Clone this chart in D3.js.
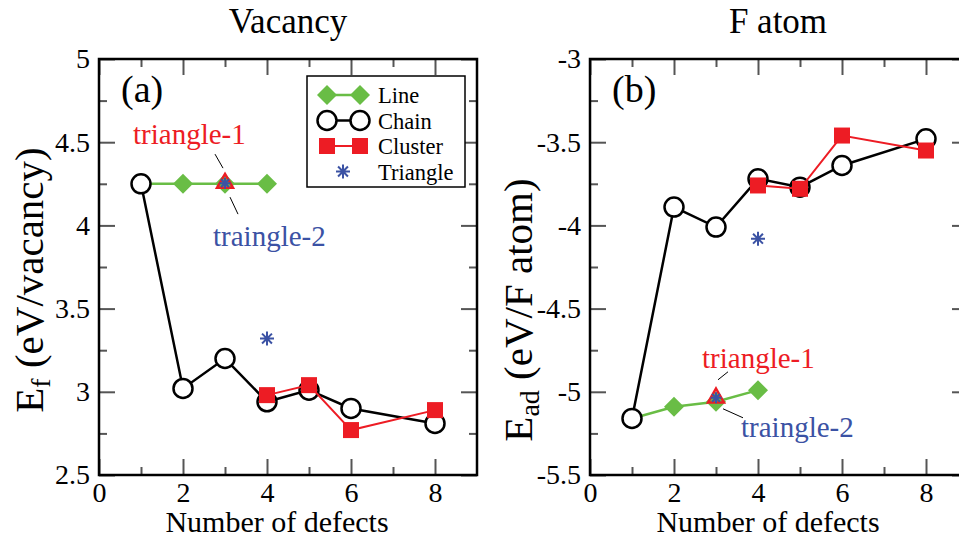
<!DOCTYPE html>
<html>
<head>
<meta charset="utf-8">
<script src="https://cdn.jsdelivr.net/npm/d3@7"></script>
<style>
  body { margin: 0; background: #fff; }
  svg { display: block; }
  .tick line { stroke: #555; stroke-width: 2; }
  .tick text { fill: #000; }
</style>
</head>
<body>
<svg width="959" height="537"></svg>
<script>
// values
var xTicks = [0, 2, 4, 6, 8];
var xMinor = [1, 3, 5, 7];
var vacancyTicks = [2.5, 3, 3.5, 4, 4.5, 5];
var vacancyMinor = [2.75, 3.25, 3.75, 4.25, 4.75];
var fatomTicks = [-5.5, -5, -4.5, -4, -3.5, -3];
var fatomMinor = [-5.25, -4.75, -4.25, -3.75, -3.25];

var lineX = [1, 2, 3, 4];
var lineVacancy = [4.25, 4.25, 4.25, 4.25];
var lineFatom = [-5.16, -5.09, -5.06, -4.99];

var chainX = [1, 2, 3, 4, 5, 6, 8];
var chainVacancy = [4.25, 3.02, 3.20, 2.94, 3.01, 2.90, 2.81];
var chainFatom = [-5.16, -3.89, -4.01, -3.72, -3.77, -3.64, -3.48];

var clusterX = [4, 5, 6, 8];
var clusterVacancy = [2.98, 3.04, 2.77, 2.89];
var clusterFatom = [-3.76, -3.78, -3.46, -3.55];

var triangleX = [4];
var triangleVacancy = [3.32];
var triangleFatom = [-4.08];

// the two triangle structures marked at 3 defects
var markedX = [3];
var markedVacancy = [4.26];
var markedFatom = [-5.03];

var RED = "#ed1c24", GREEN = "#69bd45", BLUE = "#3b52a4";
var SERIF = "Liberation Serif";

var svg = d3.select("svg");

function zip(xs, ys) { return xs.map(function(x, i) { return {x: x, y: ys[i]}; }); }

// 8-armed asterisk like the grace one
function asterisk(r) {
  var d = r * Math.SQRT1_2;
  return "M0," + (-r) + "V" + r + "M" + (-r) + ",0H" + r +
    "M" + (-d) + "," + (-d) + "L" + d + "," + d + "M" + (-d) + "," + d + "L" + d + "," + (-d);
}

function drawPanel(p) {
  var x = d3.scaleLinear().domain([0, 9]).range([p.left, p.left + 378]);
  var y = d3.scaleLinear().domain(p.yDomain).range([475, 59]);
  var g = svg.append("g");

  // ticks inward on all four sides
  function ax(axisFn, scale, vals, size, labels, tr) {
    var a = axisFn(scale).tickValues(vals).tickSize(-size).tickPadding(labels ? 7 : 0);
    if (!labels) a.tickFormat("");
    else a.tickFormat(function(d) { return String(d); });
    var s = g.append("g").attr("transform", tr).call(a);
    s.attr("font-family", null).attr("font-size", null);
    s.selectAll("text").style("font-size", "28px");
    s.select(".domain").remove();
    return s;
  }
  ax(d3.axisBottom, x, xTicks, 16, true, "translate(0,475)");
  ax(d3.axisBottom, x, xMinor, 8, false, "translate(0,475)");
  ax(d3.axisTop, x, xTicks, 16, false, "translate(0,59)");
  ax(d3.axisTop, x, xMinor, 8, false, "translate(0,59)");
  ax(d3.axisLeft, y, p.yTicks, 16, true, "translate(" + p.left + ",0)")
    .selectAll("text").attr("x", -9);
  ax(d3.axisLeft, y, p.yMinor, 8, false, "translate(" + p.left + ",0)");
  ax(d3.axisRight, y, p.yTicks, 16, false, "translate(" + x(9) + ",0)");
  ax(d3.axisRight, y, p.yMinor, 8, false, "translate(" + x(9) + ",0)");

  g.append("rect").attr("x", x(0)).attr("y", y.range()[1])
    .attr("width", x(9) - x(0)).attr("height", y.range()[0] - y.range()[1])
    .attr("fill", "none").attr("stroke", "#000").attr("stroke-width", 2.5);

  var line = d3.line().x(function(d) { return x(d.x); }).y(function(d) { return y(d.y); });

  // Line
  var ld = zip(lineX, p.line);
  g.append("path").datum(ld).attr("d", line).attr("fill", "none")
    .attr("stroke", GREEN).attr("stroke-width", 2.5);
  g.selectAll(".dia").data(ld.slice(1)).enter().append("path")
    .attr("transform", function(d) { return "translate(" + x(d.x) + "," + y(d.y) + ") rotate(45)"; })
    .attr("d", d3.symbol(d3.symbolSquare, 200)).attr("fill", GREEN);

  // Chain
  var cd = zip(chainX, p.chain);
  g.append("path").datum(cd).attr("d", line).attr("fill", "none")
    .attr("stroke", "#000").attr("stroke-width", 2.5);
  g.selectAll(".circ").data(cd).enter().append("circle")
    .attr("cx", function(d) { return x(d.x); }).attr("cy", function(d) { return y(d.y); })
    .attr("r", 9.5).attr("fill", "#fff").attr("stroke", "#000").attr("stroke-width", 2.5);

  // Cluster
  var kd = zip(clusterX, p.cluster);
  g.append("path").datum(kd).attr("d", line).attr("fill", "none")
    .attr("stroke", RED).attr("stroke-width", 2);
  g.selectAll(".sq").data(kd).enter().append("rect")
    .attr("x", function(d) { return x(d.x) - 8; }).attr("y", function(d) { return y(d.y) - 8; })
    .attr("width", 16).attr("height", 16).attr("fill", RED);

  // Triangle
  g.selectAll(".ast").data(zip(triangleX, p.triangle)).enter().append("path")
    .attr("transform", function(d) { return "translate(" + x(d.x) + "," + y(d.y) + ")"; })
    .attr("d", asterisk(7)).attr("stroke", BLUE).attr("stroke-width", 2);

  // marked triangle-1 / traingle-2 at 3 defects
  var md = zip(markedX, p.marked);
  g.selectAll(".tri").data(md).enter().append("path")
    .attr("transform", function(d) { return "translate(" + x(d.x) + "," + (y(d.y) + 1) + ")"; })
    .attr("d", d3.symbol(d3.symbolTriangle, 110)).attr("fill", "none")
    .attr("stroke", RED).attr("stroke-width", 2.5);
  g.selectAll(".ast2").data(md).enter().append("path")
    .attr("transform", function(d) { return "translate(" + x(d.x) + "," + (y(d.y) + 1) + ")"; })
    .attr("d", asterisk(5.5)).attr("stroke", BLUE).attr("stroke-width", 2);

  var mx = x(markedX[0]), my = y(p.marked[0]);
  p.notes.forEach(function(n) {
    g.append("line").attr("x1", mx + n.l[0]).attr("y1", my + n.l[1])
      .attr("x2", mx + n.l[2]).attr("y2", my + n.l[3])
      .attr("stroke", "#000").attr("stroke-width", 1);
    g.append("text").attr("x", mx + n.t[0]).attr("y", my + n.t[1])
      .attr("fill", n.c).style("font-size", "29px").text(n.s);
  });

  // texts
  g.append("text").attr("x", p.left + 22).attr("y", 102).style("font-size", "38px").text(p.tag);
  g.append("text").attr("x", p.titleX).attr("y", 33).attr("text-anchor", "middle")
    .style("font-size", "35px").text(p.title);
  g.append("text").attr("x", x(4.5) - 11).attr("y", 532).attr("text-anchor", "middle")
    .style("font-size", "30px").text("Number of defects");
  var yl = g.append("text").attr("text-anchor", "middle").style("font-size", "41px")
    .attr("transform", "translate(" + p.ylab[0] + "," + p.ylab[1] + ") rotate(-90)");
  yl.append("tspan").text("E");
  yl.append("tspan").style("font-size", "28px").attr("dy", 7).text(p.sub);
  yl.append("tspan").attr("dy", -7).text(" (" + p.unit + ")");
  return {x: x, y: y, g: g};
}

var a = drawPanel({
  left: 99, yDomain: [2.5, 5], yTicks: vacancyTicks, yMinor: vacancyMinor,
  line: lineVacancy, chain: chainVacancy, cluster: clusterVacancy,
  triangle: triangleVacancy, marked: markedVacancy,
  tag: "(a)", title: "Vacancy", titleX: 288, sub: "f", unit: "eV/vacancy", ylab: [43, 280],
  notes: [
    {s: "triangle-1", c: RED, t: [-92, -38], l: [-10, -28, -2, -14]},
    {s: "traingle-2", c: BLUE, t: [-12, 64], l: [5, 15, 13, 32]}
  ]
});

var b = drawPanel({
  left: 590, yDomain: [-5.5, -3], yTicks: fatomTicks, yMinor: fatomMinor,
  line: lineFatom, chain: chainFatom, cluster: clusterFatom,
  triangle: triangleFatom, marked: markedFatom,
  tag: "(b)", title: "F atom", titleX: 778, sub: "ad", unit: "eV/F atom", ylab: [532, 310],
  notes: [
    {s: "triangle-1", c: RED, t: [-14, -29], l: [2, -17, 12, -25]},
    {s: "traingle-2", c: BLUE, t: [25, 40], l: [7, 12, 27, 21]}
  ]
});

// legend in panel (a)
var lg = svg.append("g");
lg.append("rect").attr("x", 307).attr("y", 76).attr("width", 158).attr("height", 111)
  .attr("fill", "#fff").attr("stroke", "#000").attr("stroke-width", 1.5);
var entries = ["Line", "Chain", "Cluster", "Triangle"];
entries.forEach(function(name, i) {
  var cy = 95 + i * 25.5;
  var row = lg.append("g");
  if (name === "Line") {
    row.append("line").attr("x1", 327).attr("x2", 360).attr("y1", cy).attr("y2", cy)
      .attr("stroke", GREEN).attr("stroke-width", 2.5);
    [327, 360].forEach(function(cx) {
      row.append("path").attr("transform", "translate(" + cx + "," + cy + ") rotate(45)")
        .attr("d", d3.symbol(d3.symbolSquare, 200)).attr("fill", GREEN);
    });
  } else if (name === "Chain") {
    row.append("line").attr("x1", 327).attr("x2", 360).attr("y1", cy).attr("y2", cy)
      .attr("stroke", "#000").attr("stroke-width", 2.5);
    [327, 360].forEach(function(cx) {
      row.append("circle").attr("cx", cx).attr("cy", cy).attr("r", 9.5)
        .attr("fill", "#fff").attr("stroke", "#000").attr("stroke-width", 2.5);
    });
  } else if (name === "Cluster") {
    row.append("line").attr("x1", 327).attr("x2", 360).attr("y1", cy).attr("y2", cy)
      .attr("stroke", RED).attr("stroke-width", 2);
    [327, 360].forEach(function(cx) {
      row.append("rect").attr("x", cx - 8).attr("y", cy - 8).attr("width", 16).attr("height", 16)
        .attr("fill", RED);
    });
  } else {
    row.append("path").attr("transform", "translate(343," + cy + ")")
      .attr("d", asterisk(7)).attr("stroke", BLUE).attr("stroke-width", 2);
  }
  row.append("text").attr("x", 378).attr("y", cy + 8).style("font-size", "22.5px").text(name);
});

// every text in the serif face
svg.selectAll("text").style("font-family", SERIF + ", 'Times New Roman', serif");
</script>
</body>
</html>
